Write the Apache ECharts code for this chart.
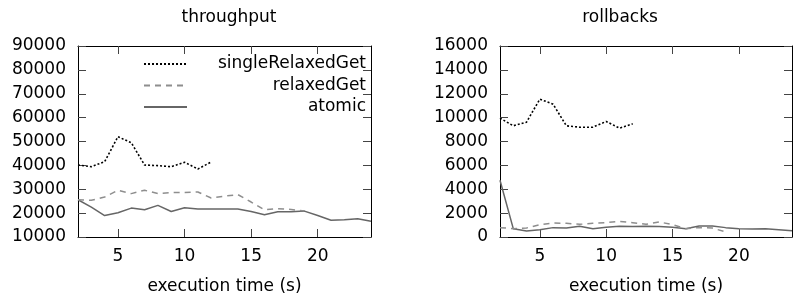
<!DOCTYPE html>
<html>
<head>
<meta charset="utf-8">
<script src="https://cdn.jsdelivr.net/npm/echarts@6/dist/echarts.min.js"></script>
<style>html,body{margin:0;padding:0;background:#fff}#c{width:799px;height:301px}</style>
</head>
<body>
<div id="c"></div>
<script>
const time = [2,3,4,5,6,7,8,9,10,11,12,13,14,15,16,17,18,19,20,21,22,23,24];
const xTicks = [5, 10, 15, 20];
const seriesNames = ['singleRelaxedGet', 'relaxedGet', 'atomic'];
const titles = ['throughput', 'rollbacks'];
const xName = 'execution time (s)';

const tpSingle = [40150, 39450, 41550, 52000, 49500, 40150, 39900, 39450, 41300, 38500, 41400];
const tpRelaxed = [25600, 25350, 26760, 29580, 28170, 29580, 28170, 28600, 28600, 28870, 26340, 27100, 27750, 24650, 21400, 21830, 21550, 20850];
const tpAtomic = [25600, 22540, 19000, 20140, 22110, 21400, 23240, 20700, 22250, 21690, 21690, 21690, 21690, 20700, 19300, 20560, 20560, 20850, 19000, 17040, 17180, 17600, 16620];

const rbSingle = [9960, 9315, 9620, 11550, 11130, 9315, 9200, 9200, 9680, 9120, 9480];
const rbRelaxed = [785, 700, 755, 1035, 1175, 1150, 1060, 1150, 1200, 1315, 1200, 1060, 1260, 1035, 700, 785, 755, 420];
const rbAtomic = [4750, 700, 500, 615, 785, 755, 900, 700, 810, 900, 870, 900, 870, 810, 700, 925, 925, 785, 700, 670, 700, 615, 530];

const tpRange = {min: 10000, max: 90000, interval: 10000};
const rbRange = {min: 0, max: 16000, interval: 2000};

const FONT = 'DejaVu Sans';
const FS = 17;
const styles = [
  {color: '#000000', width: 1.6, type: [2, 2]},
  {color: '#8e8e8e', width: 1.5, type: [6, 5]},
  {color: '#666666', width: 1.5, type: 'solid'}
];
const pair = vals => vals.map((v, i) => [time[i], v]);

const chart = echarts.init(document.getElementById('c'), null, {renderer: 'canvas'});

function xAxisDef(grid, bottom) {
  return {
    type: 'value', gridIndex: grid, min: 2, max: 24,
    position: bottom ? 'bottom' : 'top',
    name: bottom ? xName : '', nameLocation: 'middle', nameGap: 41,
    nameTextStyle: {fontFamily: FONT, fontSize: FS, color: '#000'},
    splitLine: {show: false},
    axisLine: {show: true, onZero: false, lineStyle: {color: '#000', width: 1}},
    axisTick: {show: true, inside: true, length: 8, customValues: xTicks, lineStyle: {color: '#444'}},
    axisLabel: {show: bottom, customValues: xTicks, margin: 11, fontFamily: FONT, fontSize: FS, color: '#000',
      formatter: v => String(v)}
  };
}
function yAxisDef(grid, range, left) {
  return {
    type: 'value', gridIndex: grid, min: range.min, max: range.max, interval: range.interval,
    position: left ? 'left' : 'right',
    splitLine: {show: false},
    axisLine: {show: true, onZero: false, lineStyle: {color: '#000', width: 1}},
    axisTick: {show: true, inside: true, length: 8, lineStyle: {color: '#444'}},
    axisLabel: {show: left, margin: 12, fontFamily: FONT, fontSize: FS, color: '#000',
      formatter: v => String(v)}
  };
}
function lineSeries(idx, grid, vals) {
  return {
    type: 'line', name: seriesNames[idx], xAxisIndex: grid * 2, yAxisIndex: grid * 2,
    data: pair(vals), symbol: 'none', showSymbol: false, animation: false,
    lineStyle: styles[idx], itemStyle: {color: styles[idx].color}, z: 3 - idx
  };
}

chart.setOption({
  animation: false,
  title: [
    {text: titles[0], left: 224, top: 4, textAlign: 'center', textStyle: {fontFamily: FONT, fontSize: FS, fontWeight: 'normal', color: '#000'}},
    {text: titles[1], left: 615, top: 4, textAlign: 'center', textStyle: {fontFamily: FONT, fontSize: FS, fontWeight: 'normal', color: '#000'}}
  ],
  legend: {
    data: seriesNames, orient: 'vertical', left: 138, top: 50,
    itemWidth: 43, itemHeight: 12, itemGap: 3.5,
    itemStyle: {opacity: 0},
    formatter: n => '{r|' + n + '}',
    textStyle: {fontFamily: FONT, fontSize: FS, color: '#000', lineHeight: 18,
      rich: {r: {width: 174, align: 'right', fontFamily: FONT, fontSize: FS, color: '#000'}}},
    selectedMode: false
  },
  grid: [
    {left: 78, top: 46, width: 293, height: 191},
    {left: 500, top: 46, width: 292, height: 191}
  ],
  xAxis: [xAxisDef(0, true), xAxisDef(0, false), xAxisDef(1, true), xAxisDef(1, false)],
  yAxis: [yAxisDef(0, tpRange, true), yAxisDef(0, tpRange, false), yAxisDef(1, rbRange, true), yAxisDef(1, rbRange, false)],
  series: [
    lineSeries(0, 0, tpSingle), lineSeries(1, 0, tpRelaxed), lineSeries(2, 0, tpAtomic),
    lineSeries(0, 1, rbSingle), lineSeries(1, 1, rbRelaxed), lineSeries(2, 1, rbAtomic)
  ]
});
</script>
</body>
</html>
